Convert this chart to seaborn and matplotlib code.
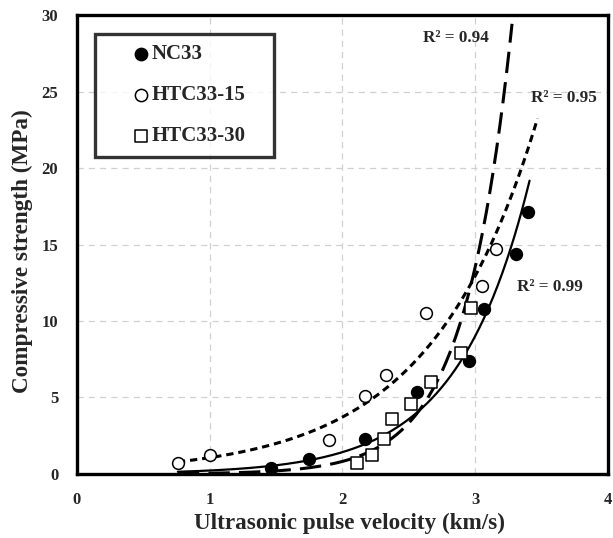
import numpy as np
import pandas as pd
import matplotlib
matplotlib.use("Agg")
import matplotlib.pyplot as plt
import seaborn as sns

# ---- data ----
nc33_x = [1.46, 1.75, 2.17, 2.56, 2.95, 3.07, 3.31, 3.40]
nc33_y = [0.40, 0.98, 2.29, 5.34, 7.39, 10.76, 14.4, 17.1]
htc15_x = [0.76, 1.00, 1.90, 2.17, 2.33, 2.63, 3.05, 3.16]
htc15_y = [0.74, 1.24, 2.20, 5.10, 6.50, 10.5, 12.3, 14.7]
htc30_x = [2.11, 2.22, 2.31, 2.37, 2.52, 2.67, 2.89, 2.97]
htc30_y = [0.74, 1.26, 2.29, 3.57, 4.55, 6.03, 7.89, 10.87]

series_names = ["NC33", "HTC33-15", "HTC33-30"]
r2_labels = ["R² = 0.99", "R² = 0.95", "R² = 0.94"]
r2_pos = [(3.565, 12.2), (3.67, 24.6), (2.855, 28.5)]
# trendline drawing range (x start, x end)
trend_ranges = [(0.76, 3.41), (0.76, 3.47), (0.76, 3.278)]

sns.set_theme(style="white")
plt.rcParams["font.family"] = ["Liberation Serif", "DejaVu Serif"]
plt.rcParams["font.weight"] = "bold"

fig = plt.figure(figsize=(6.13, 5.38), dpi=100)
ax = fig.add_axes([0.1256, 0.119, 0.866, 0.853])

xs = [nc33_x, htc15_x, htc30_x]
ys = [nc33_y, htc15_y, htc30_y]
markers = ["o", "o", "s"]
faces = ["black", "white", "white"]
sizes = [72, 72, 64]
line_styles = ["-", (0, (2.4, 1.6)), (0, (7, 3))]
line_widths = [1.6, 2.2, 2.2]

for name, x, y, m, fc, s in zip(series_names, xs, ys, markers, faces, sizes):
    df = pd.DataFrame({"x": x, "y": y})
    sns.scatterplot(data=df, x="x", y="y", marker=m, s=s, color=fc,
                    edgecolor="black", linewidth=1.1, ax=ax, label=name, zorder=3)

for x, y, rng, ls, lw in zip(xs, ys, trend_ranges, line_styles, line_widths):
    b, lna = np.polyfit(np.array(x), np.log(np.array(y)), 1)
    xx = np.linspace(rng[0], rng[1], 300)
    tdf = pd.DataFrame({"x": xx, "y": np.exp(lna) * np.exp(b * xx)})
    sns.lineplot(data=tdf, x="x", y="y", color="black", linestyle=ls,
                 linewidth=lw, ax=ax, legend=False, zorder=2)

ax.set_xlim(0, 4)
ax.set_ylim(0, 30)
ax.set_xticks([0, 1, 2, 3, 4])
ax.set_yticks([0, 5, 10, 15, 20, 25, 30])
ax.grid(True, color="#d0d0d0", linestyle=(0, (5, 4)), linewidth=0.9)
ax.set_axisbelow(True)
for sp in ax.spines.values():
    sp.set_color("black")
    sp.set_linewidth(2.4)
ax.tick_params(axis="both", length=0, labelsize=12)
ax.tick_params(axis="x", pad=13)
ax.tick_params(axis="y", pad=13.5)
for lab in ax.get_xticklabels() + ax.get_yticklabels():
    lab.set_fontweight("bold")

ax.set_xlabel("Ultrasonic pulse velocity (km/s)", fontsize=16.7, fontweight="bold")
ax.set_ylabel("Compressive strength (MPa)", fontsize=16.7, fontweight="bold")
ax.xaxis.set_label_coords(0.514, -0.084)
ax.yaxis.set_label_coords(-0.083, 0.486)

for txt, (tx, ty) in zip(r2_labels, r2_pos):
    ax.text(tx, ty, txt, fontsize=12.3, fontweight="bold", ha="center", va="center")

leg = ax.legend(loc="upper left", bbox_to_anchor=(0.034, 0.5, 0.337, 0.4586), mode="expand",
                frameon=True, fancybox=False,
                prop={"size": 15, "weight": "bold"}, handletextpad=-1.2, labelspacing=1.0,
                borderpad=0.5, handlelength=3.4, borderaxespad=0)
leg.get_frame().set_edgecolor("black")
leg.get_frame().set_linewidth(2.4)
for h in leg.legend_handles:
    h.set_sizes([78])

fig.savefig("out.png", dpi=100)
